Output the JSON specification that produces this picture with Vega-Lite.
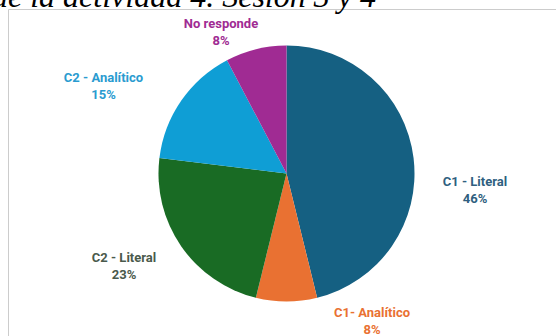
{
  "$schema": "https://vega.github.io/schema/vega-lite/v6.json",
  "autosize": {"type": "none"},
  "padding": {"left": 8, "top": 9, "right": 0, "bottom": 0},
  "width": 557,
  "height": 329,
  "background": "white",
  "view": {"stroke": "#cccccc", "strokeWidth": 1, "fill": "white"},
  "config": {
    "view": {"stroke": "#cccccc", "strokeWidth": 1, "fill": "white"},
    "text": {"font": "Roboto"}
  },
  "title": {
    "text": "de la actividad 4. Sesión 3 y 4",
    "font": "Liberation Serif",
    "fontStyle": "italic",
    "fontWeight": "normal",
    "fontSize": 32,
    "color": "#000000",
    "orient": "none",
    "anchor": "start",
    "frame": "group",
    "offset": 0,
    "baseline": "alphabetic",
    "dx": -16,
    "dy": -2
  },
  "data": {
    "values": [
      {"categoria": "C1 - Literal", "n": 6, "orden": 1, "etiqueta": "C1 - Literal\n46%"},
      {"categoria": "C1- Analítico", "n": 1, "orden": 2, "etiqueta": "C1- Analítico\n8%"},
      {"categoria": "C2 - Literal", "n": 3, "orden": 3, "etiqueta": "C2 - Literal\n23%"},
      {"categoria": "C2 - Analítico", "n": 2, "orden": 4, "etiqueta": "C2 - Analítico\n15%"},
      {"categoria": "No responde", "n": 1, "orden": 5, "etiqueta": "No responde\n8%"}
    ]
  },
  "encoding": {
    "theta": {"field": "n", "type": "quantitative", "stack": true},
    "order": {"field": "orden", "type": "quantitative"}
  },
  "layer": [
    {
      "mark": {"type": "arc", "outerRadius": 128},
      "encoding": {
        "color": {
          "field": "categoria",
          "type": "nominal",
          "scale": {
            "domain": ["C1 - Literal", "C1- Analítico", "C2 - Literal", "C2 - Analítico", "No responde"],
            "range": ["#156082", "#E97132", "#196B24", "#0F9ED5", "#A02B93"]
          },
          "legend": null
        }
      }
    },
    {
      "mark": {"type": "text", "radius": 140, "dx": 49.5, "dy": 25.4, "fontSize": 13, "fontWeight": "bold", "color": "#2f5f80", "lineBreak": "\n", "lineHeight": 17, "align": "center", "baseline": "middle"},
      "encoding": {"text": {"condition": {"test": "datum.categoria === 'C1 - Literal'", "field": "etiqueta", "type": "nominal"}, "value": ""}}
    },
    {
      "mark": {"type": "text", "radius": 140, "dx": 85.5, "dy": -1, "fontSize": 13, "fontWeight": "bold", "color": "#E97132", "lineBreak": "\n", "lineHeight": 17, "align": "center", "baseline": "middle"},
      "encoding": {"text": {"condition": {"test": "datum.categoria === 'C1- Analítico'", "field": "etiqueta", "type": "nominal"}, "value": ""}}
    },
    {
      "mark": {"type": "text", "radius": 140, "dx": -47.3, "dy": 4.5, "fontSize": 13, "fontWeight": "bold", "color": "#4a5a4c", "lineBreak": "\n", "lineHeight": 17, "align": "center", "baseline": "middle"},
      "encoding": {"text": {"condition": {"test": "datum.categoria === 'C2 - Literal'", "field": "etiqueta", "type": "nominal"}, "value": ""}}
    },
    {
      "mark": {"type": "text", "radius": 140, "dx": -67.8, "dy": -16, "fontSize": 13, "fontWeight": "bold", "color": "#2a9bd0", "lineBreak": "\n", "lineHeight": 17, "align": "center", "baseline": "middle"},
      "encoding": {"text": {"condition": {"test": "datum.categoria === 'C2 - Analítico'", "field": "etiqueta", "type": "nominal"}, "value": ""}}
    },
    {
      "mark": {"type": "text", "radius": 140, "dx": -32, "dy": -14, "fontSize": 13, "fontWeight": "bold", "color": "#A02B93", "lineBreak": "\n", "lineHeight": 17, "align": "center", "baseline": "middle"},
      "encoding": {"text": {"condition": {"test": "datum.categoria === 'No responde'", "field": "etiqueta", "type": "nominal"}, "value": ""}}
    }
  ]
}
